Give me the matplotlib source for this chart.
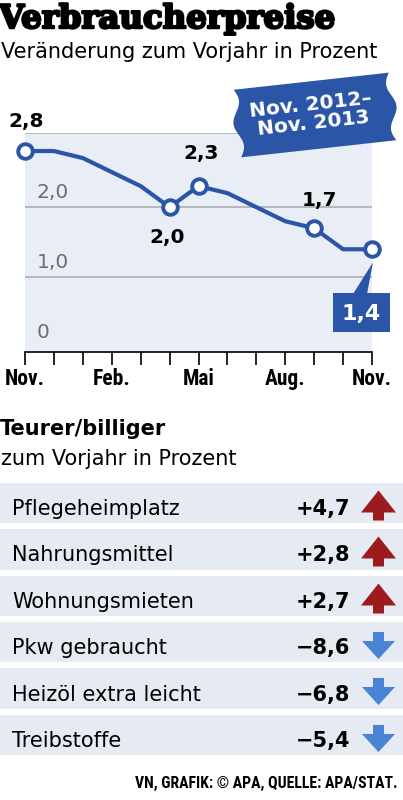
import numpy as np
import matplotlib.pyplot as plt
import matplotlib.patheffects as pe
from matplotlib.path import Path
from matplotlib.patches import Polygon, Rectangle

W, H = 403, 800

# line chart: Nov 2012 .. Nov 2013
month_ticks = ["Nov.", "", "", "Feb.", "", "", "Mai", "", "", "Aug.", "", "", "Nov."]
inflation = [2.8, 2.8, 2.7, 2.5, 2.3, 2.0, 2.3, 2.2, 2.0, 1.8, 1.7, 1.4, 1.4]
marked = [0, 5, 6, 10, 12]
y_ticks = [0, 1, 2]
y_tick_labels = ["0", "1,0", "2,0"]

# table
items = ["Pflegeheimplatz", "Nahrungsmittel", "Wohnungsmieten",
         "Pkw gebraucht", "Heizöl extra leicht", "Treibstoffe"]
changes = [4.7, 2.8, 2.7, -8.6, -6.8, -5.4]

BLUE = "#2b55a6"
SHADE = "#e9edf5"
BAND = "#e6eaf2"
GRID = "#a9a9a9"
RED = "#9b1b1f"
ARROW_BLUE = "#4a82d4"
NARROW = ["Roboto Condensed", "DejaVu Sans"]

plt.rcParams["font.family"] = ["DejaVu Sans"]


def fmt(v, sign=False):
    s = f"{abs(v):.1f}".replace(".", ",")
    if sign:
        s = ("+" if v > 0 else "\u2212") + s
    return s


fig = plt.figure(figsize=(W / 100, H / 100), dpi=100)


def px_axes(left, top, right, bottom, **kw):
    return fig.add_axes([left / W, 1 - bottom / H, (right - left) / W, (bottom - top) / H], **kw)


# ---- line chart
ax = px_axes(25, 133.5, 372, 351.7)
ax.set_xlim(0, 12)
ax.set_ylim(-0.06, 3.05)
ax.set_facecolor(SHADE)
for s in ("left", "right", "top"):
    ax.spines[s].set_visible(False)
ax.spines["bottom"].set_linewidth(1.2)
ax.axhline(3.05, color=GRID, lw=1.1, zorder=1)
for yv, lab in zip(y_ticks, y_tick_labels):
    if yv > 0:
        ax.axhline(yv, color=GRID, lw=1.1, zorder=1)
    ax.text(0.4, yv + 0.13, lab, color="#6e6e6e", fontsize=14.5, va="baseline")
ax.set_yticks([])

x = np.arange(len(inflation))
vals = np.array(inflation)
ax.set_xticks(x, month_ticks, fontfamily=NARROW, fontweight="bold", fontsize=15.5)
ax.tick_params(axis="x", length=9, width=1.2, pad=3)

ax.plot(x, vals, color=BLUE, lw=3, solid_joinstyle="round", solid_capstyle="round",
        clip_on=False, zorder=3)
mx = np.array(marked)
ax.plot(mx, vals[mx], "o", ms=10.5, mfc="white", mec=BLUE, mew=2.8, clip_on=False, zorder=4)

label_offsets = {0: (1, 24), 5: (-2, -36), 6: (3, 27), 10: (5, 22)}
for i, (dx, dy) in label_offsets.items():
    ax.annotate(fmt(inflation[i]), (i, inflation[i]), xytext=(dx, dy),
                textcoords="offset pixels", ha="center", va="baseline",
                fontsize=14.5, fontweight="bold", annotation_clip=False)

# ---- overlay in pixel coordinates
ov = px_axes(0, 0, W, H, zorder=5)
ov.set_xlim(0, W)
ov.set_ylim(H, 0)
ov.axis("off")

ov.text(-1, 28, "Verbraucherpreise", fontfamily="DejaVu Serif", fontweight="bold",
        fontsize=23.3, va="baseline",
        path_effects=[pe.withStroke(linewidth=1.8, foreground="black")])
ov.text(1, 58, "Veränderung zum Vorjahr in Prozent", fontsize=15, va="baseline")

# badge
t = np.linspace(0, 1, 60)
hw, hh = 78, 34
wave = 4 * np.sin(t * 3 * np.pi)
u = np.concatenate([-hw + wave, hw - wave[::-1]])
v = np.concatenate([hh - 2 * hh * t, -hh + 2 * hh * t])
th = np.deg2rad(6.3)
cx, cy = 315, 115
bx = cx + u * np.cos(th) + v * np.sin(th)
by = cy - u * np.sin(th) + v * np.cos(th)
ov.add_patch(Polygon(np.column_stack([bx, by]), closed=True, fc=BLUE, ec="none"))
ov.text(312, 114, "Nov. 2012\u2013\nNov. 2013", color="white", fontweight="bold",
        fontsize=14.5, ha="center", va="center", rotation=6.3, rotation_mode="anchor",
        linespacing=1.0)

# last value box with pointer
tip = ax.transData.transform((x[-1], vals[-1]))
tx, ty = tip[0], H - tip[1]
ov.add_patch(Rectangle((333, 293), 57, 39, fc=BLUE, ec="none"))
ov.add_patch(Polygon([(353, 294), (367, 294), (tx + 1, ty + 13)], closed=True, fc=BLUE, ec="none"))
ov.text(361.5, 320, fmt(inflation[-1]), color="white", fontweight="bold", fontsize=16,
        ha="center", va="baseline")

ov.text(0, 435, "Teurer/billiger", fontweight="bold", fontsize=15, va="baseline")
ov.text(1, 465, "zum Vorjahr in Prozent", fontsize=15, va="baseline")
ov.text(398, 788, "VN, GRAFIK: \u00a9 APA, QUELLE: APA/STAT.", ha="right", va="baseline",
        fontfamily=NARROW, fontweight="bold", fontsize=11.3)

# ---- table
tab = px_axes(0, 479.8, W, 758.2)
tab.set_xlim(0, W)
tab.set_ylim(len(items) - 0.5, -0.5)
tab.axis("off")
rows = np.arange(len(items))
tab.barh(rows, W, height=0.87, left=0, color=BAND)
for r, name, val in zip(rows, items, changes):
    tab.text(12, r + 0.26, name, fontsize=15, va="baseline")
    tab.text(350, r + 0.26, fmt(val, sign=True), fontsize=15, fontweight="bold",
             ha="right", va="baseline")

up = Path([(0, 15), (17.5, -7), (5.5, -7), (5.5, -15), (-5.5, -15), (-5.5, -7), (-17.5, -7), (0, 15)],
          [Path.MOVETO] + [Path.LINETO] * 6 + [Path.CLOSEPOLY])
down = Path([(0, -13.5), (16.5, 4.5), (5.5, 4.5), (5.5, 13.5), (-5.5, 13.5), (-5.5, 4.5), (-16.5, 4.5), (0, -13.5)],
            [Path.MOVETO] + [Path.LINETO] * 6 + [Path.CLOSEPOLY])
ch = np.array(changes)
tab.plot(np.full((ch > 0).sum(), 377.5), rows[ch > 0] + 0.04, ls="none", marker=up,
         ms=25.2, color=RED, mec="none")
tab.plot(np.full((ch < 0).sum(), 377.5), rows[ch < 0] + 0.06, ls="none", marker=down,
         ms=23.8, color=ARROW_BLUE, mec="none")

fig.savefig("out.png", dpi=100)
